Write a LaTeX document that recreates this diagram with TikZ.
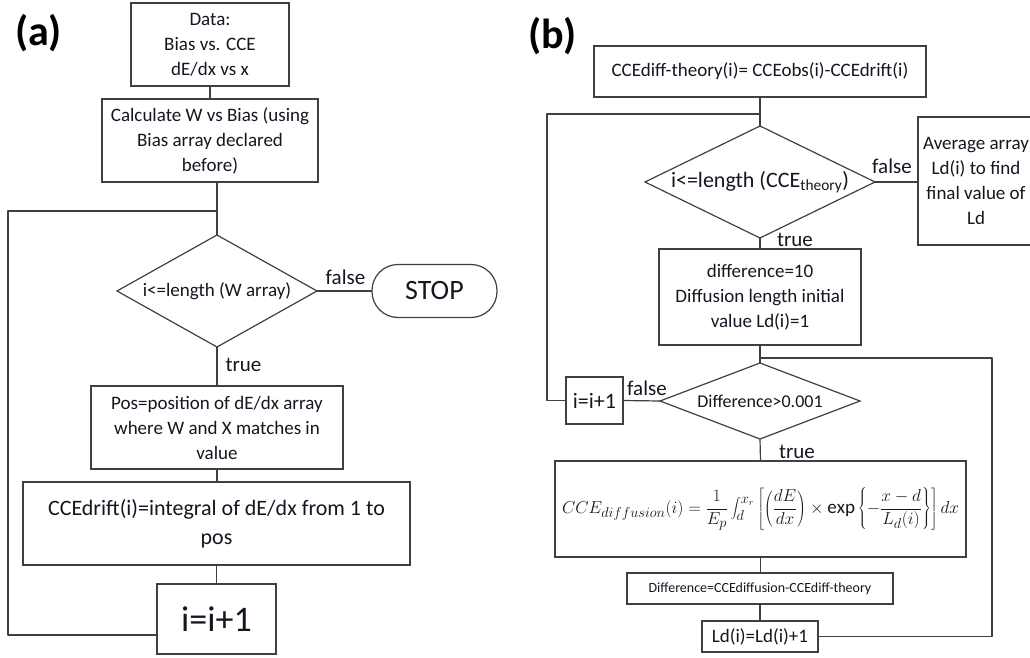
\documentclass[tikz,border=0pt]{standalone}
\usepackage{fontspec}
\setmainfont{Carlito}
\usetikzlibrary{shapes.geometric}

\begin{document}
\begin{tikzpicture}[x=1pt,y=1pt,
  box/.style={rectangle,draw=drawColor,line width=1.2pt,fill=fillColor,align=center,inner sep=0pt,outer sep=0pt,text=textColor,font=\fontsize{19}{25}\selectfont},
  test/.style={diamond,draw=drawColor,line width=1.2pt,fill=fillColor,align=center,inner sep=0pt,outer sep=0pt,text=textColor,font=\fontsize{19}{25}\selectfont},
  lbl/.style={text=textColor,inner sep=0pt,outer sep=0pt,font=\fontsize{21}{25}\selectfont},
  panel/.style={text=black,inner sep=0pt,outer sep=0pt,font=\fontsize{42}{46}\selectfont\bfseries},
  link/.style={draw=drawColor,line width=1.2pt,line join=round}]
\definecolor{fillColor}{RGB}{255,255,255}
\definecolor{drawColor}{RGB}{64,64,64}
\definecolor{textColor}{RGB}{22,22,34}
\path[use as bounding box,fill=fillColor] (0,0) rectangle (1030,657);

\node[panel] (labA) at ( 38.5,624.0) {(a)};

\node[box,minimum width=158,minimum height=83] (data) at (210.0,612.5) {Data:\\Bias vs. CCE\\dE/dx vs x};

\node[box,minimum width=216,minimum height=83] (calc) at (210.0,516.5) {Calculate W vs Bias (using\\Bias array declared\\before)};

\node[test,aspect=1.79,minimum width=200,minimum height=112] (condA) at (217.0,366.0) {i<=length (W array)};

\node[box,rounded corners=26,minimum width=125,minimum height=53,font=\fontsize{28}{32}\selectfont] (stop) at (434.5,366.0) {STOP};

\node[box,minimum width=252,minimum height=83] (pos) at (217.0,229.5) {Pos=position of dE/dx array\\where W and X matches in\\value};

\node[box,minimum width=387,minimum height=83,font=\fontsize{22}{29}\selectfont] (drift) at (216.5,133.5) {CCEdrift(i)=integral of dE/dx from 1 to\\pos};

\node[box,minimum width=119,minimum height=70,font=\fontsize{36}{40}\selectfont] (incrA) at (216.5, 38.0) {i=i+1};

\node[lbl] (falseA) at (345.5,380.0) {false};

\node[lbl] (trueA) at (243.5,292.0) {true};

\coordinate (joinA) at (217.0,446.0);
\coordinate (backA) at (  8.0, 22.0);

\path[link] (data.south) -- (calc.north);

\path[link] (condA.north |- calc.south) -- (condA.north);

\path[link] (condA.east) -- (stop.west);

\path[link] (condA.south) -- (pos.north);

\path[link] (pos.south) -- (pos.south |- drift.north);

\path[link] (drift.south) -- (incrA.north);

\path[link] (incrA.west |- backA) -- (backA) |- (joinA);

\node[panel] (labB) at (552.5,621.0) {(b)};

\node[box,minimum width=332,minimum height=51] (theo) at (760.0,585.5) {CCEdiff-theory(i)= CCEobs(i)-CCEdrift(i)};

\node[test,aspect=2.05,minimum width=230,minimum height=112,font=\fontsize{22}{26}\selectfont] (cmpB) at (760.0,475.0) {i<=length (CCE\textsubscript{theory})};

\node[box,minimum width=116,minimum height=128] (avg) at (976.0,476.0) {Average array\\Ld(i) to find\\final value of\\Ld};

\node[box,minimum width=202,minimum height=96] (init) at (760.0,360.0) {difference=10\\Diffusion length initial\\value Ld(i)=1};

\node[test,aspect=2.63,minimum width=200,minimum height=76,font=\fontsize{18}{22}\selectfont] (chk) at (760.0,256.0) {Difference>0.001};

\node[box,minimum width=57,minimum height=47,font=\fontsize{22}{26}\selectfont] (incrB) at (594.5,256.5) {i=i+1};

\node[box,minimum width=411,minimum height=96] (form) at (760.5,148.0) {$\displaystyle CCE_{diffusion}(i)=\frac{1}{E_p}\int_d^{x_r}\left[\left(\frac{dE}{dx}\right)\times\exp\left\{-\frac{x-d}{L_d(i)}\right\}\right]dx$};

\node[box,minimum width=266,minimum height=31,font=\fontsize{14}{17}\selectfont] (diff) at (760.0, 68.5) {Difference=CCEdiffusion-CCEdiff-theory};

\node[box,minimum width=116,minimum height=31] (ld) at (760.0, 20.5) {Ld(i)=Ld(i)+1};

\node[lbl] (falseB) at (892.0,491.0) {false};

\node[lbl] (trueB) at (795.0,417.0) {true};

\node[lbl] (falseC) at (647.0,269.0) {false};

\node[lbl] (trueC) at (797.0,205.0) {true};

\coordinate (backB) at (547.0,543.0);
\coordinate (backC) at (992.0,299.0);

\path[link] (theo.south) -- (cmpB.north);

\path[link] (cmpB.east) -- (cmpB.east -| avg.west);

\path[link] (cmpB.south) -- (init.north);

\path[link] (init.south) -- (chk.north);

\path[link] (chk.west) -- (incrB.east);

\path[link] (incrB.west) -- (incrB.west -| backB) -- (backB) -- (theo.south |- backB);

\path[link] (chk.south) -- (form.north);

\path[link] (form.south) -- (form.south |- diff.north);

\path[link] (diff.south) -- (ld.north);

\path[link] (ld.east) -- (ld.east -| backC) -- (backC) -- (chk.north |- backC);
\end{tikzpicture}
\end{document}
